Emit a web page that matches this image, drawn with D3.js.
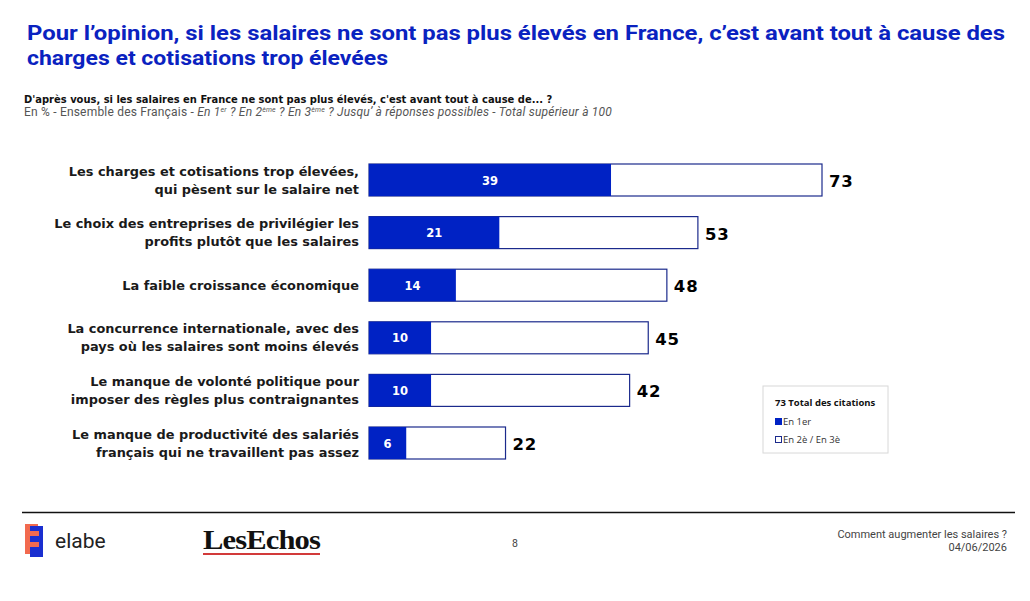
<!DOCTYPE html>
<html><head><meta charset="utf-8">
<script src="https://cdn.jsdelivr.net/npm/d3@7"></script>
<style>
html,body{margin:0;padding:0;background:#fff;}
svg{display:block;}
</style></head>
<body>
<svg id="c" width="1030" height="601"></svg>
<script>
const categories = [
  ["Les charges et cotisations trop élevées,", "qui pèsent sur le salaire net"],
  ["Le choix des entreprises de privilégier les", "profits plutôt que les salaires"],
  ["La faible croissance économique"],
  ["La concurrence internationale, avec des", "pays où les salaires sont moins élevés"],
  ["Le manque de volonté politique pour", "imposer des règles plus contraignantes"],
  ["Le manque de productivité des salariés", "français qui ne travaillent pas assez"]
];
const firstRank = [39, 21, 14, 10, 10, 6];
const totalCitations = [73, 53, 48, 45, 42, 22];
const legendLabels = ["Total des citations", "En 1er", "En 2è / En 3è"];

const svg = d3.select("#c");
const blue = "#0022c4";
const navy = "#1b2a8c";
const ids = categories.map((c, i) => i);

const x = d3.scaleLinear().domain([0, 73]).range([369, 822]);
const y = d3.scalePoint().domain(ids).range([180, 443]);
const bh = 32;

// Title
svg.append("text").attr("x", 27).attr("y", 40).attr("fill", "#0a22c0")
  .attr("font-family", "Roboto, sans-serif").attr("font-weight", 700).attr("font-size", 20)
  .attr("textLength", 978).attr("lengthAdjust", "spacingAndGlyphs")
  .text("Pour l’opinion, si les salaires ne sont pas plus élevés en France, c’est avant tout à cause des");
svg.append("text").attr("x", 27).attr("y", 65).attr("fill", "#0a22c0")
  .attr("font-family", "Roboto, sans-serif").attr("font-weight", 700).attr("font-size", 20)
  .attr("textLength", 361).attr("lengthAdjust", "spacingAndGlyphs")
  .text("charges et cotisations trop élevées");

svg.append("text").attr("x", 24).attr("y", 103).attr("font-family", "DejaVu Sans, sans-serif")
  .attr("font-weight", 700).attr("font-size", 9.95).attr("fill", "#111")
  .text("D'après vous, si les salaires en France ne sont pas plus élevés, c'est avant tout à cause de... ?");
const sub = svg.append("text").attr("x", 24).attr("y", 116).attr("font-family", "Roboto, sans-serif")
  .attr("font-size", 12).attr("letter-spacing", 0.2).attr("fill", "#555");
sub.append("tspan").text("En % - Ensemble des Français - ");
sub.append("tspan").attr("font-style", "italic").text("En 1");
sub.append("tspan").attr("font-style", "italic").attr("font-size", 7).attr("dy", -4).text("er");
sub.append("tspan").attr("font-style", "italic").attr("dy", 4).text(" ? En 2");
sub.append("tspan").attr("font-style", "italic").attr("font-size", 7).attr("dy", -4).text("ème");
sub.append("tspan").attr("font-style", "italic").attr("dy", 4).text(" ? En 3");
sub.append("tspan").attr("font-style", "italic").attr("font-size", 7).attr("dy", -4).text("ème");
sub.append("tspan").attr("font-style", "italic").attr("dy", 4).text(" ? Jusqu’ à réponses possibles - Total supérieur à 100");

// Bars
const g = svg.append("g");
g.selectAll("rect.tot").data(ids).join("rect").attr("class", "tot")
  .attr("x", x(0)).attr("y", i => y(i) - bh / 2)
  .attr("width", i => x(totalCitations[i]) - x(0)).attr("height", bh)
  .attr("fill", "#fff").attr("stroke", navy).attr("stroke-width", 1.2);
g.selectAll("rect.first").data(ids).join("rect").attr("class", "first")
  .attr("x", x(0)).attr("y", i => y(i) - bh / 2)
  .attr("width", i => x(firstRank[i]) - x(0)).attr("height", bh)
  .attr("fill", blue);
g.selectAll("text.in").data(ids).join("text").attr("class", "in")
  .attr("x", i => (x(0) + x(firstRank[i])) / 2).attr("y", i => y(i) + 4.5)
  .attr("text-anchor", "middle").attr("fill", "#fff")
  .attr("font-family", "DejaVu Sans, sans-serif").attr("font-weight", 700).attr("font-size", 11.5)
  .text(i => firstRank[i]);
g.selectAll("text.tot").data(ids).join("text").attr("class", "tot")
  .attr("x", i => x(totalCitations[i]) + 7).attr("y", i => y(i) + 7)
  .attr("fill", "#000").attr("font-family", "DejaVu Sans, sans-serif").attr("font-weight", 700)
  .attr("font-size", 16.5).attr("letter-spacing", 0.8)
  .text(i => totalCitations[i]);

// Labels
const lab = g.selectAll("text.lab").data(ids).join("text").attr("class", "lab")
  .attr("text-anchor", "end").attr("fill", "#1a1a1a")
  .attr("font-family", "DejaVu Sans, sans-serif").attr("font-weight", 700).attr("font-size", 12.9);
lab.each(function(i) {
  const lines = categories[i];
  const t = d3.select(this);
  lines.forEach((l, k) => {
    const off = lines.length === 1 ? 0 : (k === 0 ? -9 : 9);
    t.append("tspan").attr("x", 359).attr("y", y(i) + off + 4.5).text(l);
  });
});

// Legend
const lg = svg.append("g");
lg.append("rect").attr("x", 763).attr("y", 386).attr("width", 125).attr("height", 67)
  .attr("fill", "#fff").attr("stroke", "#d8d8d8").attr("stroke-width", 1);
lg.append("text").attr("x", 775).attr("y", 406).attr("font-family", "Open Sans, sans-serif")
  .attr("font-weight", 700).attr("font-size", 9.5).attr("fill", "#111")
  .text(totalCitations[0] + "  " + legendLabels[0]);
lg.append("rect").attr("x", 775).attr("y", 418).attr("width", 7).attr("height", 7).attr("fill", blue);
lg.append("text").attr("x", 783).attr("y", 425).attr("font-family", "Open Sans, sans-serif")
  .attr("font-size", 9.5).attr("fill", "#333").text(legendLabels[1]);
lg.append("rect").attr("x", 775.5).attr("y", 436.5).attr("width", 6).attr("height", 6)
  .attr("fill", "#fff").attr("stroke", navy).attr("stroke-width", 1);
lg.append("text").attr("x", 783).attr("y", 443).attr("font-family", "Open Sans, sans-serif")
  .attr("font-size", 9.5).attr("fill", "#333").text(legendLabels[2]);

// Footer
svg.append("line").attr("x1", 22).attr("x2", 1015).attr("y1", 512.5).attr("y2", 512.5)
  .attr("stroke", "#111").attr("stroke-width", 1.3);
// elabe logo
const lo = svg.append("g");
lo.append("rect").attr("x", 25).attr("y", 524).attr("width", 13).attr("height", 30).attr("fill", "#f26a4f");
lo.append("rect").attr("x", 30).attr("y", 526).attr("width", 13).attr("height", 31).attr("fill", "#1a2fd0");
lo.append("rect").attr("x", 30).attr("y", 531).attr("width", 9).attr("height", 5).attr("fill", "#f26a4f");
lo.append("rect").attr("x", 30).attr("y", 542).attr("width", 9).attr("height", 5).attr("fill", "#f26a4f");
svg.append("text").attr("x", 55).attr("y", 548).attr("font-family", "Roboto, sans-serif")
  .attr("font-size", 21).attr("fill", "#222").text("elabe");
svg.append("text").attr("x", 203).attr("y", 549).attr("font-family", "Liberation Serif, serif")
  .attr("font-weight", 700).attr("font-size", 28).attr("letter-spacing", -0.8).attr("fill", "#111")
  .attr("textLength", 117).attr("lengthAdjust", "spacingAndGlyphs").text("LesEchos");
svg.append("rect").attr("x", 203).attr("y", 553).attr("width", 117).attr("height", 2).attr("fill", "#d23a3a");
svg.append("text").attr("x", 515).attr("y", 547).attr("text-anchor", "middle").attr("font-family", "Roboto, sans-serif")
  .attr("font-size", 10.5).attr("fill", "#444").text("8");
svg.append("text").attr("x", 1007).attr("y", 538).attr("text-anchor", "end").attr("font-family", "Roboto, sans-serif")
  .attr("font-size", 11).attr("fill", "#444").text("Comment augmenter les salaires ?");
svg.append("text").attr("x", 1007).attr("y", 551).attr("text-anchor", "end").attr("font-family", "Roboto, sans-serif")
  .attr("font-size", 11).attr("fill", "#444").text("04/06/2026");
</script>
</body></html>
